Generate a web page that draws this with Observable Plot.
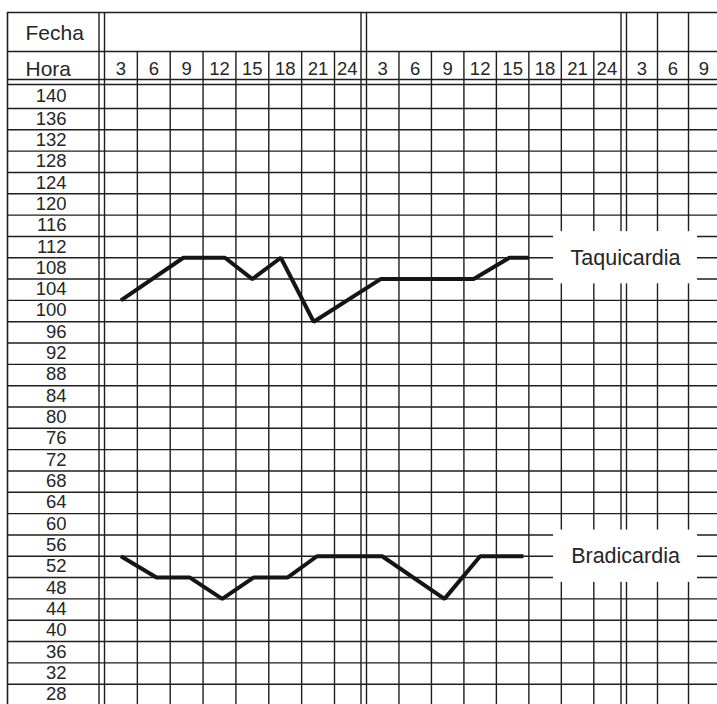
<!DOCTYPE html>
<html>
<head>
<meta charset="utf-8">
<script src="https://cdn.jsdelivr.net/npm/d3@7"></script>
<script src="https://cdn.jsdelivr.net/npm/@observablehq/plot@0.6"></script>
<style>
  html, body { margin: 0; padding: 0; background: #fff; }
  #chart svg { display: block; }
</style>
</head>
<body>
<div id="chart"></div>
<script>
// ---- Data ----
const hours = [3, 6, 9, 12, 15, 18, 21, 24];        // hour columns per day
const daysShown = [1, 2, 3];
const hoursPerDay = [8, 8, 3];                       // columns visible per day
const yTicks = [140, 136, 132, 128, 124, 120, 116, 112, 108, 104, 100, 96, 92, 88,
                84, 80, 76, 72, 68, 64, 60, 56, 52, 48, 44, 40, 36, 32, 28];
const headerLabels = ["Fecha", "Hora"];

// Taquicardia line (day, hour, beats/min)
const taqDay   = [1, 1, 1, 1, 1, 1, 2, 2, 2, 2];
const taqHour  = [3, 8.7, 12.5, 15, 17.6, 20.6, 2.8, 11.4, 14.7, 16.5];
const taqValue = [104, 112, 112, 108, 112, 100, 108, 108, 112, 112];

// Bradicardia line (day, hour, beats/min)
const braDay   = [1, 1, 1, 1, 1, 1, 1, 2, 2, 2, 2];
const braHour  = [3, 6.25, 9.3, 12.25, 15.1, 18.2, 20.9, 2.95, 8.7, 12, 16];
const braValue = [56, 52, 52, 48, 52, 52, 56, 56, 48, 56, 56];

const seriesNames  = ["Taquicardia", "Bradicardia"];
const seriesLabelY = [112, 56];

// ---- Derived tables ----
const slotOf = (day, hour) => (day - 1) * 8 + hour / 3 - 0.5;   // centre of column
const taq = taqValue.map((v, i) => ({slot: slotOf(taqDay[i], taqHour[i]), value: v}));
const bra = braValue.map((v, i) => ({slot: slotOf(braDay[i], braHour[i]), value: v}));

const hourCols = [];
daysShown.forEach((d, di) => {
  hours.slice(0, hoursPerDay[di]).forEach((h, hi) => {
    hourCols.push({day: d, hour: h, slot: di * 8 + hi});
  });
});
const dayStarts = daysShown.map((d, i) => i * 8);           // double lines
const innerCols = hourCols.filter(c => c.slot % 8 !== 0).map(c => c.slot);
const day3Inner = hourCols.filter(c => c.day === 3 && c.slot % 8 !== 0).map(c => c.slot);
const gridValues = yTicks.filter(v => v > 28);

const labels = seriesNames.map((n, i) => ({name: n, value: seriesLabelY[i]}));

// layout constants (scale units)
const LEFT = -1, RIGHT = 19, BOTTOM = 28, GRID_TOP = 144, HORA_TOP = 149, TOP = 156;

const ink = "#1e1e1e";
const textInk = "#262626";
const font = "Liberation Sans, Arial, Helvetica, sans-serif";

const chart = Plot.plot({
  width: 717,
  height: 704,
  margin: 0,
  style: {background: "#fff", fontFamily: font, color: ink},
  x: {type: "linear", domain: [-1, 0, 7, 8, 15, 16, 19], range: [7, 104, 334, 366, 593.3, 626, 719], axis: null},
  y: {type: "linear", domain: [BOTTOM, 140, GRID_TOP, HORA_TOP, TOP], range: [705, 108, 84, 51, 12], axis: null},
  marks: [
    // horizontal grid lines
    Plot.ruleY(gridValues, {y: d => d, x1: () => LEFT, x2: () => RIGHT, stroke: ink, strokeWidth: 1.4}),
    Plot.ruleY([GRID_TOP], {y: d => d, x1: () => LEFT, x2: () => RIGHT, stroke: ink, strokeWidth: 1.4}),
    Plot.ruleY([GRID_TOP], {y: d => d, dy: -5, x1: () => LEFT, x2: () => RIGHT, stroke: ink, strokeWidth: 1.4}),
    Plot.ruleY([HORA_TOP, TOP], {y: d => d, x1: () => LEFT, x2: () => RIGHT, stroke: ink, strokeWidth: 1.6}),
    // vertical lines
    Plot.ruleX([LEFT], {x: d => d, y1: () => BOTTOM, y2: () => TOP, stroke: ink, strokeWidth: 1.6}),
    Plot.ruleX(innerCols, {x: d => d, y1: () => BOTTOM, y2: () => HORA_TOP, stroke: ink, strokeWidth: 1.4}),
    Plot.ruleX(day3Inner, {x: d => d, y1: () => HORA_TOP, y2: () => TOP, stroke: ink, strokeWidth: 1.4}),
    Plot.ruleX(dayStarts, {x: d => d, y1: () => BOTTOM, y2: () => TOP, stroke: ink, strokeWidth: 1.4}),
    Plot.ruleX(dayStarts, {x: d => d, dx: -5.5, y1: () => BOTTOM, y2: () => TOP, stroke: ink, strokeWidth: 1.4}),
    // header text
    Plot.text(headerLabels, {
      x: () => LEFT, y: (d, i) => i === 0 ? (HORA_TOP + TOP) / 2 : (GRID_TOP + HORA_TOP) / 2,
      text: d => d, dx: 18, dy: 1.5, textAnchor: "start", fontSize: 21, fill: textInk
    }),
    Plot.text(hourCols, {
      x: d => d.slot + 0.5 - (d.hour === 24 ? 0.1 : 0), y: () => (GRID_TOP + HORA_TOP) / 2,
      text: d => String(d.hour), dy: 1, fontSize: 18.5, fill: textInk
    }),
    // y labels
    Plot.text(yTicks, {
      x: () => LEFT, y: d => d + 2, text: d => String(d), dx: 59, dy: -0.5, textAnchor: "end",
      fontSize: 18.5, fill: textInk
    }),
    // data lines
    Plot.line(taq, {x: "slot", y: "value", stroke: "#151515", strokeWidth: 4, strokeLinejoin: "miter", strokeLinecap: "butt"}),
    Plot.line(bra, {x: "slot", y: "value", stroke: "#151515", strokeWidth: 4, strokeLinejoin: "miter", strokeLinecap: "butt"}),
    // label boxes
    Plot.rect(labels, {x1: () => 13.76, x2: () => 18.29, y1: d => d.value - 4.9, y2: d => d.value + 4.9, fill: "#fff"}),
    Plot.text(labels, {x: () => 15.97, y: "value", text: "name", fontSize: 21.5, fill: textInk})
  ]
});
document.getElementById("chart").append(chart);
</script>
</body>
</html>
